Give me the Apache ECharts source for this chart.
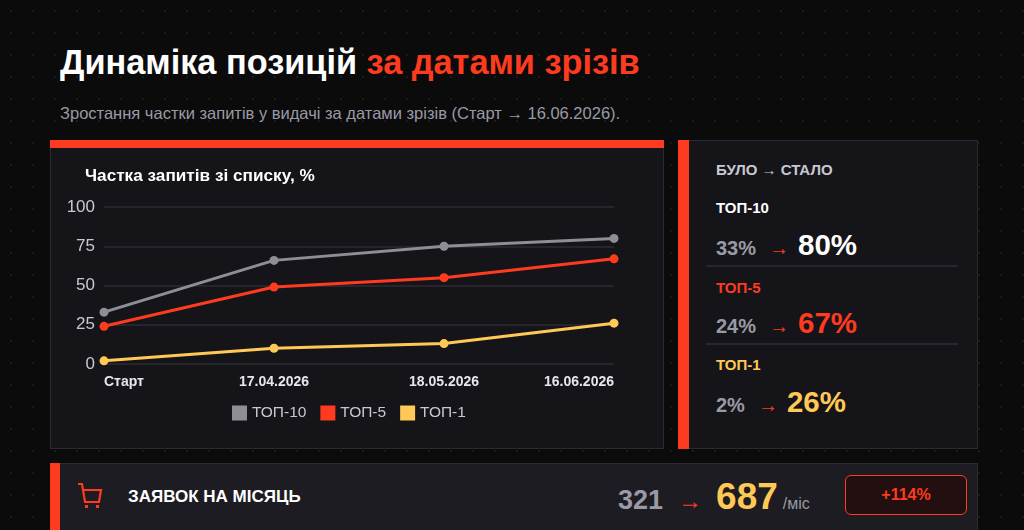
<!DOCTYPE html>
<html><head><meta charset="utf-8">
<script src="https://cdn.jsdelivr.net/npm/echarts@6/dist/echarts.min.js"></script>
<style>
html,body{margin:0;padding:0;width:1024px;height:530px;overflow:hidden;background:#0b0b0c;font-family:"Liberation Sans",Arial,sans-serif;}
body{background-image:radial-gradient(#1b1b1d 1px,transparent 1.2px);background-size:22px 22px;}
.abs{position:absolute;line-height:1;}
#title{left:60px;top:45px;font-size:34.3px;font-weight:bold;color:#fff;white-space:nowrap;}
#title span{color:#ff3b1f;}
#sub{left:60px;top:105px;font-size:16.5px;color:#9a9aa6;white-space:nowrap;}
#panel{left:50px;top:140px;width:612px;height:308px;background:#151519;border:1px solid #2a2a30;border-top:none;}
#panelbar{left:50px;top:140px;width:614px;height:8px;background:#ff3b1f;}
#chart{left:50px;top:148px;width:614px;height:302px;}
#side{left:678px;top:140px;width:298px;height:307px;background:#151519;border:1px solid #2a2a30;}
#sidebar{left:678px;top:140px;width:11px;height:309px;background:#ff3b1f;}
.lbl{font-size:15px;font-weight:bold;white-space:nowrap;}
.row{white-space:nowrap;}
.row span{line-height:1;}
.was{font-size:20px;font-weight:bold;color:#9a9aa6;}
.arr{font-size:20px;color:#ff3b1f;margin:0 9px 0 13px;}
.now{font-size:29.5px;font-weight:bold;}
.div{height:2px;background:#26262c;left:706px;width:252px;}
#bottom{left:50px;top:463px;width:926px;height:80px;background:#1c1c22;border:1px solid #2a2a30;}
#bottombar{left:50px;top:463px;width:10px;height:80px;background:#ff3b1f;}
#blabel{left:128px;top:488px;font-size:17px;font-weight:bold;color:#fff;white-space:nowrap;}
#bnums{left:618px;top:478px;white-space:nowrap;}
#bnums span{line-height:1;}
#badge{left:845px;top:475px;width:120px;height:38px;border:1.5px solid #ff3b1f;border-radius:6px;background:#230f0f;color:#ff3b1f;font-size:16px;font-weight:bold;text-align:center;line-height:38px;}
</style></head>
<body>
<div id="title" class="abs">Динаміка позицій <span>за датами зрізів</span></div>
<div id="sub" class="abs">Зростання частки запитів у видачі за датами зрізів (Старт → 16.06.2026).</div>
<div id="panel" class="abs"></div>
<div id="panelbar" class="abs"></div>
<div id="chart" class="abs"></div>
<div id="side" class="abs"></div>
<div id="sidebar" class="abs"></div>
<div id="sidecontent"></div>
<div id="bottom" class="abs"></div>
<div id="bottombar" class="abs"></div>
<svg class="abs" style="left:76px;top:482px" width="28" height="28" viewBox="0 0 28 28">
<path d="M2 2 H6 L9 20 H23 L25 8 H8" fill="none" stroke="#ff3b1f" stroke-width="2.2"/>
<rect x="9" y="23" width="3" height="3" fill="#ff3b1f"/><rect x="20" y="23" width="3" height="3" fill="#ff3b1f"/>
</svg>
<div id="blabel" class="abs">ЗАЯВОК НА МІСЯЦЬ</div>
<div id="bnums" class="abs"></div>
<div id="badge" class="abs"></div>
<script>
var categories = ["Старт", "17.04.2026", "18.05.2026", "16.06.2026"];
var seriesNames = ["ТОП-10", "ТОП-5", "ТОП-1"];
var top10 = [33, 66, 75, 80];
var top5 = [24, 49, 55, 67];
var top1 = [2, 10, 13, 26];
var yTicks = [0, 25, 50, 75, 100];
var colors = ["#8e8e96", "#ff3b1f", "#ffc857"];
var labelColors = ["#ffffff", "#ff3b1f", "#ffc857"];
var nowColors = ["#ffffff", "#ff3b1f", "#ffc857"];
var wasValues = [33, 24, 2];
var nowValues = [80, 67, 26];
var ordersBefore = 321;
var ordersAfter = 687;
var ordersGrowth = "+114%";

// side panel
var sc = document.getElementById('sidecontent');
var h = '<div class="abs lbl" style="left:716px;top:162px;color:#c8c8d2">БУЛО → СТАЛО</div>';
var lblTops = [200, 280, 357];
var rowTops = [230, 308, 387];
var divTops = [265, 343];
for (var i = 0; i < 3; i++) {
  h += '<div class="abs lbl" style="left:716px;top:' + lblTops[i] + 'px;color:' + labelColors[i] + '">' + seriesNames[i] + '</div>';
  h += '<div class="abs row" style="left:716px;top:' + rowTops[i] + 'px"><span class="was">' + wasValues[i] + '%</span><span class="arr">→</span><span class="now" style="color:' + nowColors[i] + '">' + nowValues[i] + '%</span></div>';
  if (i < 2) h += '<div class="abs div" style="top:' + divTops[i] + 'px"></div>';
}
sc.innerHTML = h;
document.getElementById('bnums').innerHTML =
  '<span style="font-size:27px;font-weight:bold;color:#9a9aa6">' + ordersBefore + '</span>' +
  '<span style="font-size:24px;color:#ff3b1f;margin:0 14px 0 15px">→</span>' +
  '<span style="font-size:37px;font-weight:bold;color:#ffc857">' + ordersAfter + '</span>' +
  '<span style="font-size:16px;color:#9a9aa6;margin-left:5px">/міс</span>';
document.getElementById('badge').textContent = ordersGrowth;

var chart = echarts.init(document.getElementById('chart'));
var data = [top10, top5, top1];
chart.setOption({
  backgroundColor: 'transparent',
  animation: false,
  title: {text: 'Частка запитів зі списку, %', left: 30, top: 15,
    textStyle: {color: '#ffffff', fontSize: 17.2, fontWeight: 'bold', fontFamily: 'Liberation Sans'}},
  legend: {data: seriesNames, left: 177, top: 252, icon: 'rect', itemWidth: 15, itemHeight: 15, itemGap: 14,
    textStyle: {color: '#c8c8d2', fontSize: 15.5, fontFamily: 'Liberation Sans'}},
  grid: {left: 54, right: 50, top: 59, bottom: 86, containLabel: false},
  xAxis: {type: 'category', data: categories, boundaryGap: false,
    axisLine: {show: false}, axisTick: {show: false},
    axisLabel: {color: '#e6e6ee', fontSize: 14, fontWeight: 'bold', margin: 11, fontFamily: 'Liberation Sans',
      alignMinLabel: 'left', alignMaxLabel: 'right'}},
  yAxis: {type: 'value', min: yTicks[0], max: yTicks[yTicks.length - 1], interval: 25,
    axisLine: {show: false}, axisTick: {show: false},
    axisLabel: {color: '#c8c8d2', fontSize: 17, margin: 9, fontFamily: 'Liberation Sans'},
    splitLine: {lineStyle: {color: '#2b2b32', width: 1.5}}},
  series: seriesNames.map(function (n, i) {
    return {name: n, type: 'line', data: data[i], symbol: 'circle', symbolSize: 9,
      lineStyle: {color: colors[i], width: 3}, itemStyle: {color: colors[i]}};
  })
});
</script>
</body></html>
